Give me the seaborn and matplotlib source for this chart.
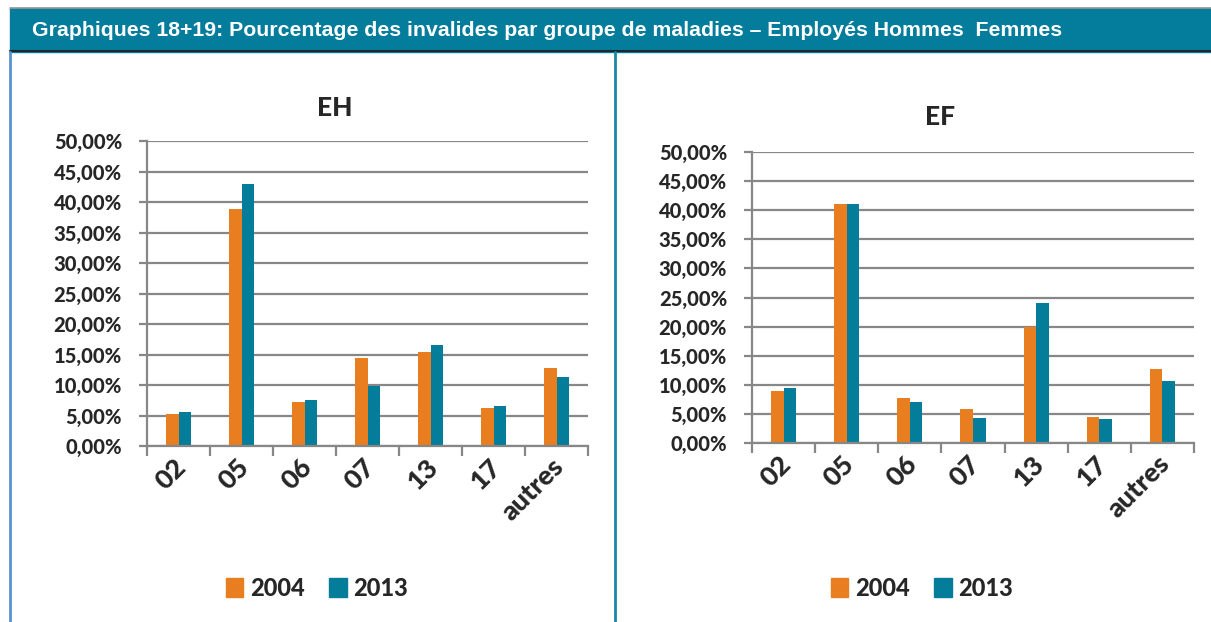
import pandas as pd
import seaborn as sns
import matplotlib.pyplot as plt
from matplotlib.patches import Rectangle, Patch
from matplotlib.lines import Line2D
from matplotlib.ticker import FixedLocator, FuncFormatter
from matplotlib.transforms import ScaledTranslation

groupes = ["02", "05", "06", "07", "13", "17", "autres"]
annees = ["2004", "2013"]
eh_2004 = [5.3, 38.8, 7.2, 14.4, 15.4, 6.3, 12.8]
eh_2013 = [5.6, 43.0, 7.6, 9.8, 16.6, 6.5, 11.3]
ef_2004 = [9.0, 41.1, 7.7, 5.8, 20.0, 4.5, 12.7]
ef_2013 = [9.4, 41.0, 7.0, 4.3, 24.1, 4.2, 10.7]
yticks = [0, 5, 10, 15, 20, 25, 30, 35, 40, 45, 50]

titre = "Graphiques 18+19: Pourcentage des invalides par groupe de maladies \u2013 Employés Hommes  Femmes"
ORANGE = "#E87E1F"
TEAL = "#047D9B"
GRID = "#878787"
W = 900

sns.set_theme(style="white")
plt.rcParams["font.family"] = ["Lato", "DejaVu Sans"]


def make_df(v04, v13):
    rows = []
    for g, a, b in zip(groupes, v04, v13):
        rows.append((g, annees[0], a))
        rows.append((g, annees[1], b))
    return pd.DataFrame(rows, columns=["groupe", "annee", "pct"])


def draw(ax, df):
    sns.barplot(data=df, x="groupe", y="pct", hue="annee", order=groupes,
                hue_order=annees, palette=[ORANGE, TEAL], width=0.4,
                saturation=1, ax=ax, legend=False, linewidth=0)
    ax.set_xlim(-0.5, len(groupes) - 0.5)
    ax.set_ylim(0, 50)
    ax.set_yticks(yticks)
    ax.yaxis.set_major_formatter(FuncFormatter(lambda v, p: f"{v:.2f}%".replace(".", ",")))
    ax.set_xlabel("")
    ax.set_ylabel("")
    ax.grid(axis="y", color=GRID, lw=1.6, zorder=0)
    ax.set_axisbelow(True)
    for s in ["top", "right"]:
        ax.spines[s].set_visible(False)
    for s in ["left", "bottom"]:
        ax.spines[s].set_color(GRID)
        ax.spines[s].set_linewidth(1.6)
    ax.tick_params(axis="y", length=6, width=1.6, color=GRID, pad=12,
                   labelsize=14.5, direction="out", left=True)
    ax.xaxis.set_minor_locator(FixedLocator([i - 0.5 for i in range(len(groupes) + 1)]))
    ax.tick_params(axis="x", which="minor", length=7, width=1.6, color=GRID,
                   direction="out", bottom=True)
    ax.tick_params(axis="x", which="major", length=0, pad=6, labelsize=19.5)
    shift = ScaledTranslation(-5 / 100, 0, fig.dpi_scale_trans)
    for lab in ax.get_xticklabels():
        lab.set_rotation(45)
        lab.set_ha("right")
        lab.set_va("top")
        lab.set_rotation_mode("anchor")
        lab.set_fontweight(W)
        lab.set_transform(lab.get_transform() + shift)
    for lab in ax.get_yticklabels():
        lab.set_fontweight(W)


fig = plt.figure(figsize=(12.11, 6.22), dpi=100)

# header band
fig.patches.append(Rectangle((10 / 1211, 1 - 52 / 622), 1201 / 1211, 44 / 622,
                             transform=fig.transFigure, color="#047C9C", zorder=0))
fig.add_artist(Line2D([10 / 1211, 1], [1 - 51 / 622] * 2, color="#1A2A30", lw=1.5))
fig.add_artist(Line2D([10 / 1211, 1], [1 - 8 / 622] * 2, color="#9A9A9A", lw=1.2))
fig.add_artist(Line2D([10 / 1211] * 2, [0, 1 - 52 / 622], color="#5B8FD0", lw=2))
fig.add_artist(Line2D([614.5 / 1211] * 2, [0, 1 - 52 / 622], color="#1A86A8", lw=2))
fig.text(32 / 1211, 1 - 31 / 622, titre, color="white", fontsize=15.3,
         fontweight="bold", family="Liberation Sans", va="center", ha="left")

ax1 = fig.add_axes([147 / 1211, 176 / 622, 441 / 1211, 305 / 622])
draw(ax1, make_df(eh_2004, eh_2013))
ax2 = fig.add_axes([752 / 1211, 179 / 622, 442 / 1211, 291 / 622])
draw(ax2, make_df(ef_2004, ef_2013))

fig.text(335 / 1211, 1 - 108 / 622, "EH", fontsize=19, fontweight=W,
         ha="center", va="center")
fig.text(940 / 1211, 1 - 117 / 622, "EF", fontsize=19, fontweight=W,
         ha="center", va="center")

handles = [Patch(color=ORANGE), Patch(color=TEAL)]
for cx in [317, 922]:
    fig.legend(handles, annees, loc="center", bbox_to_anchor=(cx / 1211, 1 - 588 / 622),
               ncol=2, frameon=False, prop={"weight": W, "size": 17},
               handlelength=0.75, handleheight=0.85, handletextpad=0.3, columnspacing=1.0)

fig.savefig("out.png", dpi=100)
